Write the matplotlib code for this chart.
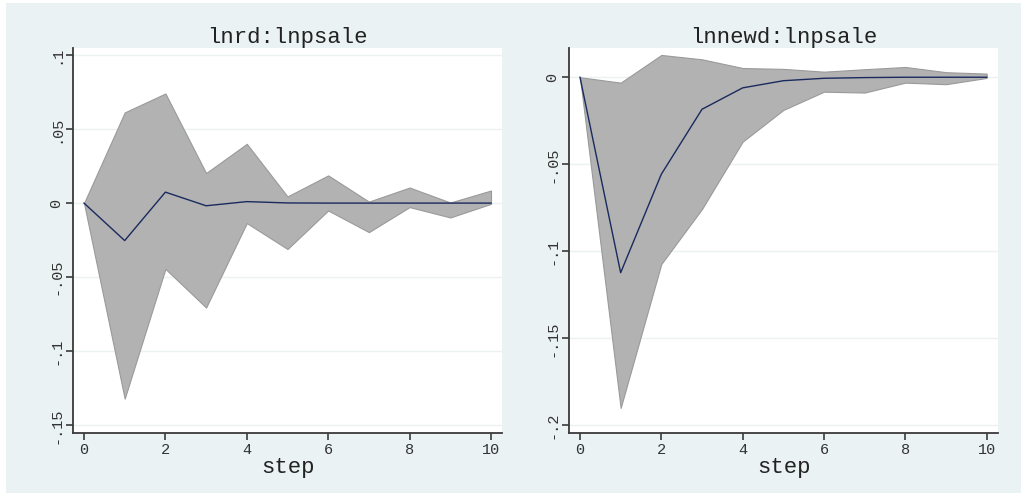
import matplotlib
matplotlib.use("Agg")
import matplotlib.pyplot as plt
from matplotlib.patches import Rectangle

# ---- data ----
steps = [0, 1, 2, 3, 4, 5, 6, 7, 8, 9, 10]

# panel 1: lnrd:lnpsale
irf1 = [0, -0.0253, 0.0074, -0.0018, 0.0010, 0.0001, 0.0000, 0.0000, 0.0000, 0.0000, 0.0000]
upper1 = [0, 0.0612, 0.0740, 0.0203, 0.0400, 0.0045, 0.0187, 0.0010, 0.0105, 0.0004, 0.0085]
lower1 = [0, -0.1320, -0.0444, -0.0705, -0.0135, -0.0310, -0.0050, -0.0196, -0.0027, -0.0097, -0.0005]

# panel 2: lnnewd:lnpsale
irf2 = [0, -0.1123, -0.0557, -0.0184, -0.0061, -0.0020, -0.0006, -0.0002, 0.0000, 0.0000, 0.0000]
upper2 = [0, -0.0031, 0.0128, 0.0103, 0.0053, 0.0048, 0.0032, 0.0046, 0.0059, 0.0029, 0.0021]
lower2 = [0, -0.1900, -0.1073, -0.0757, -0.0370, -0.0188, -0.0083, -0.0088, -0.0031, -0.0040, -0.0004]

titles = ["lnrd:lnpsale", "lnnewd:lnpsale"]
yticks1 = [0.1, 0.05, 0, -0.05, -0.1, -0.15]
ylabels1 = [".1", ".05", "0", "-.05", "-.1", "-.15"]
yticks2 = [0, -0.05, -0.1, -0.15, -0.2]
ylabels2 = ["0", "-.05", "-.1", "-.15", "-.2"]
xticks = [0, 2, 4, 6, 8, 10]
xlabel = "step"

BG = "#EAF2F3"
FONT = "Liberation Mono"
plt.rcParams["font.family"] = [FONT, "DejaVu Sans"]

fig = plt.figure(figsize=(10.21, 4.93), dpi=100)
fig.patch.set_facecolor("white")
fig.patches.append(Rectangle((6 / 1021, 0), 1 - 6 / 1021, 1 - 3 / 493,
                             transform=fig.transFigure, facecolor=BG,
                             edgecolor="none", zorder=-10))

panels = [
    dict(rect=[73 / 1021, 1 - 433 / 493, 429 / 1021, 385 / 493],
         irf=irf1, up=upper1, lo=lower1, yt=yticks1, yl=ylabels1,
         xlim=(-0.27, 10.27), ylim=(-0.1552, 0.1047), title=titles[0]),
    dict(rect=[569 / 1021, 1 - 433 / 493, 429.3 / 1021, 385 / 493],
         irf=irf2, up=upper2, lo=lower2, yt=yticks2, yl=ylabels2,
         xlim=(-0.27, 10.285), ylim=(-0.2044, 0.0168), title=titles[1]),
]

for p in panels:
    ax = fig.add_axes(p["rect"])
    ax.set_facecolor("white")
    ax.fill_between(steps, p["lo"], p["up"], facecolor="#B2B2B2",
                    edgecolor="#9A9A9A", linewidth=0.8, zorder=2)
    ax.plot(steps, p["irf"], color="#1A2A5E", linewidth=1.0, zorder=3)
    ax.set_xlim(*p["xlim"])
    ax.set_ylim(*p["ylim"])
    ax.set_yticks(p["yt"])
    ax.set_yticklabels(p["yl"], rotation=90, va="center", fontsize=11)
    ax.set_xticks(xticks)
    ax.set_xticklabels([str(t) for t in xticks], fontsize=11)
    for y in p["yt"]:
        ax.axhline(y, color=BG, linewidth=1.0, zorder=1)
    for s in ["top", "right"]:
        ax.spines[s].set_visible(False)
    for s in ["left", "bottom"]:
        ax.spines[s].set_color("#3A3A3A")
        ax.spines[s].set_linewidth(1.3)
    ax.tick_params(axis="both", direction="out", length=5, width=1.2,
                   color="#3A3A3A", labelcolor="#333333", pad=2)
    ax.set_xlabel(xlabel, fontsize=16, color="#222222", labelpad=0)
    ax.set_title(p["title"], fontsize=16, color="#222222", pad=2)

fig.savefig("out.png", dpi=100, facecolor=fig.get_facecolor())
